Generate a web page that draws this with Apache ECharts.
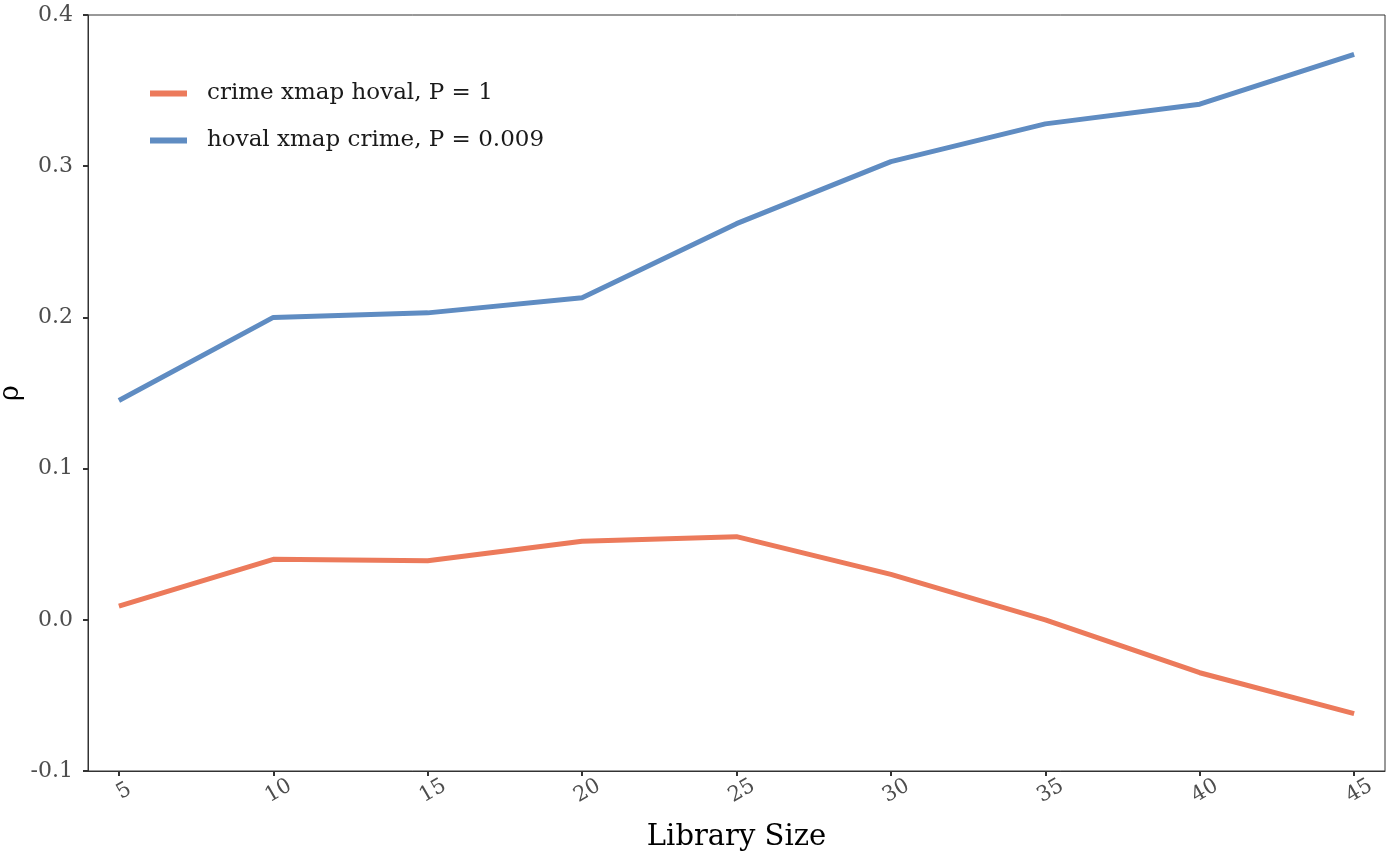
<!DOCTYPE html>
<html>
<head>
<meta charset="utf-8">
<script src="https://cdn.jsdelivr.net/npm/echarts@6/dist/echarts.min.js"></script>
<style>
  html, body { margin: 0; padding: 0; background: #fff; }
  #chart { width: 1400px; height: 866px; }
</style>
</head>
<body>
<div id="chart"></div>
<script>
// library sizes and cross-map skill (rho)
const libSizes = [5, 10, 15, 20, 25, 30, 35, 40, 45];
const crimeXmapHoval = [0.009, 0.040, 0.039, 0.052, 0.055, 0.030, 0.000, -0.035, -0.062];
const hovalXmapCrime = [0.145, 0.200, 0.203, 0.213, 0.262, 0.303, 0.328, 0.341, 0.374];
const seriesNames = ['crime xmap hoval, P = 1', 'hoval xmap crime, P = 0.009'];
const seriesColors = ['#EC7A5B', '#5F8CC2'];

const font = 'DejaVu Serif';
const toPairs = (ys) => libSizes.map((x, i) => [x, ys[i]]);

const chart = echarts.init(document.getElementById('chart'));
chart.setOption({
  animation: false,
  textStyle: { fontFamily: font },
  grid: {
    left: 88, top: 15, right: 15, bottom: 95,
    outerBoundsMode: 'none',
    show: true, borderColor: '#333', borderWidth: 1
  },
  legend: {
    left: 150, top: 80, orient: 'vertical', padding: 0,
    icon: 'rect', itemWidth: 37, itemHeight: 6, itemGap: 20,
    textStyle: { fontFamily: font, fontSize: 23, lineHeight: 27, color: '#1a1a1a', padding: [0, 0, 0, 15] },
    data: seriesNames
  },
  xAxis: {
    type: 'value', min: 4, max: 46,
    name: 'Library Size', nameLocation: 'middle', nameGap: 52, nameMoveOverlap: false,
    nameTextStyle: { fontFamily: font, fontSize: 29, color: '#000' },
    axisLine: { show: true, onZero: false, lineStyle: { color: '#333', width: 1 } },
    axisTick: { show: true, length: 5, customValues: libSizes, lineStyle: { color: '#333', width: 2 } },
    axisLabel: {
      customValues: libSizes, rotate: 30, fontFamily: font, fontSize: 21, color: '#4d4d4d',
      margin: 11, align: 'center', verticalAlign: 'top'
    },
    splitLine: { show: false }
  },
  yAxis: {
    type: 'value', min: -0.1, max: 0.4, interval: 0.1,
    name: 'ρ', nameLocation: 'middle', nameGap: 64, nameMoveOverlap: false,
    nameTextStyle: { fontFamily: font, fontSize: 27, color: '#000' },
    axisLine: { show: true, onZero: false, lineStyle: { color: '#333', width: 1 } },
    axisTick: { show: true, length: 5, lineStyle: { color: '#333', width: 2 } },
    axisLabel: {
      fontFamily: font, fontSize: 22, color: '#4d4d4d', margin: 15,
      formatter: (v) => v.toFixed(1)
    },
    splitLine: { show: false }
  },
  series: [
    {
      name: seriesNames[0], type: 'line', data: toPairs(crimeXmapHoval),
      showSymbol: false, lineStyle: { width: 5, color: seriesColors[0] },
      itemStyle: { color: seriesColors[0] }
    },
    {
      name: seriesNames[1], type: 'line', data: toPairs(hovalXmapCrime),
      showSymbol: false, lineStyle: { width: 5, color: seriesColors[1] },
      itemStyle: { color: seriesColors[1] }
    }
  ]
});
</script>
</body>
</html>
